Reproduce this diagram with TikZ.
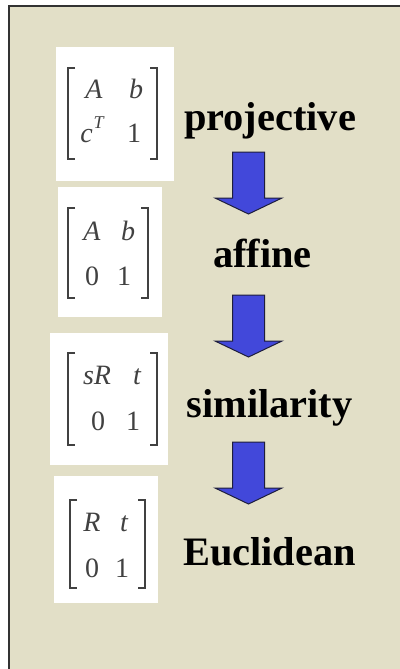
\documentclass[tikz,border=0pt]{standalone}
\usepackage{fontspec}
\setmainfont{Liberation Serif}
\definecolor{panel}{RGB}{226,223,199}
\definecolor{arrowblue}{RGB}{66,72,218}
\definecolor{arrowline}{RGB}{30,30,60}
\definecolor{mgray}{RGB}{65,65,65}
\definecolor{framec}{RGB}{50,50,50}
\newcommand\mfont{\fontsize{14pt}{14pt}\selectfont}
\newcommand\lfont{\fontsize{20.2pt}{20.2pt}\selectfont\bfseries}
\newcommand\mbrackets[4]{%
  \draw[bracketline] (#1+7,#3) -- (#1,#3) -- (#1,#4) -- (#1+7,#4);
  \draw[bracketline] (#2-7,#3) -- (#2,#3) -- (#2,#4) -- (#2-7,#4);}
\newcommand\blockarrow[2]{%
  \draw[blockarrow] (#1-16,#2) -- (#1+16,#2) -- (#1+16,#2+46) -- (#1+33.5,#2+46)
    -- (#1,#2+62) -- (#1-33.5,#2+46) -- (#1-16,#2+46) -- cycle;}
\begin{document}
\begin{tikzpicture}[x=0.5pt,y=-0.5pt,
  mbox/.style={fill=white, draw=none, inner sep=0pt},
  ment/.style={anchor=base, inner sep=0pt, font=\mfont, text=mgray},
  label/.style={anchor=base, inner sep=0pt, font=\lfont, text=black},
  bracketline/.style={draw=mgray, line width=0.8pt},
  blockarrow/.style={fill=arrowblue, draw=arrowline, line width=0.5pt, line join=miter}]
\useasboundingbox (0,0) rectangle (400,669);
\fill[white] (0,0) rectangle (400,669);
\fill[panel] (9,6) rectangle (400,669);
\draw[framec, line width=1.25pt] (9,669) -- (9,6) -- (400,6);

% matrix boxes
\node[mbox, minimum width=59pt, minimum height=67pt] (m1) at (115,114) {};
\node[mbox, minimum width=52pt, minimum height=65pt] (m2) at (110,252) {};
\node[mbox, minimum width=59pt, minimum height=66pt] (m3) at (109,399) {};
\node[mbox, minimum width=52pt, minimum height=63.5pt] (m4) at (106,539.5) {};

% matrix 1
\mbrackets{68}{157}{68}{159}
\node[ment] (m1a) at (94,98) {\itshape A};
\node[ment] (m1b) at (136,98) {\itshape b};
\node[ment] (m1c) at (92,142) {\itshape c\kern0.5pt\raisebox{0.5em}{\fontsize{9pt}{9pt}\selectfont T}};
\node[ment] (m1d) at (134,142) {1};

% matrix 2
\mbrackets{68}{148}{208}{298}
\node[ment] (m2a) at (92,240) {\itshape A};
\node[ment] (m2b) at (128,240) {\itshape b};
\node[ment] (m2c) at (92,285) {0};
\node[ment] (m2d) at (124,285) {1};

% matrix 3
\mbrackets{68}{157}{353}{445}
\node[ment] (m3a) at (97,384) {\itshape sR};
\node[ment] (m3b) at (137,384) {\itshape t};
\node[ment] (m3c) at (98,430) {0};
\node[ment] (m3d) at (133,430) {1};

% matrix 4
\mbrackets{70}{145}{500}{588}
\node[ment] (m4a) at (92,531) {\itshape R};
\node[ment] (m4b) at (124,531) {\itshape t};
\node[ment] (m4c) at (92,577) {0};
\node[ment] (m4d) at (122,577) {1};

% labels
\node[label] (proj) at (270,130) {projective};
\node[label] (aff) at (262.5,267) {affine};
\node[label] (sim) at (269.5,417) {similarity};
\node[label] (euc) at (269.5,565) {Euclidean};

% arrows
\blockarrow{248.5}{152}
\blockarrow{248.5}{295}
\blockarrow{248.5}{442}
\end{tikzpicture}
\end{document}
